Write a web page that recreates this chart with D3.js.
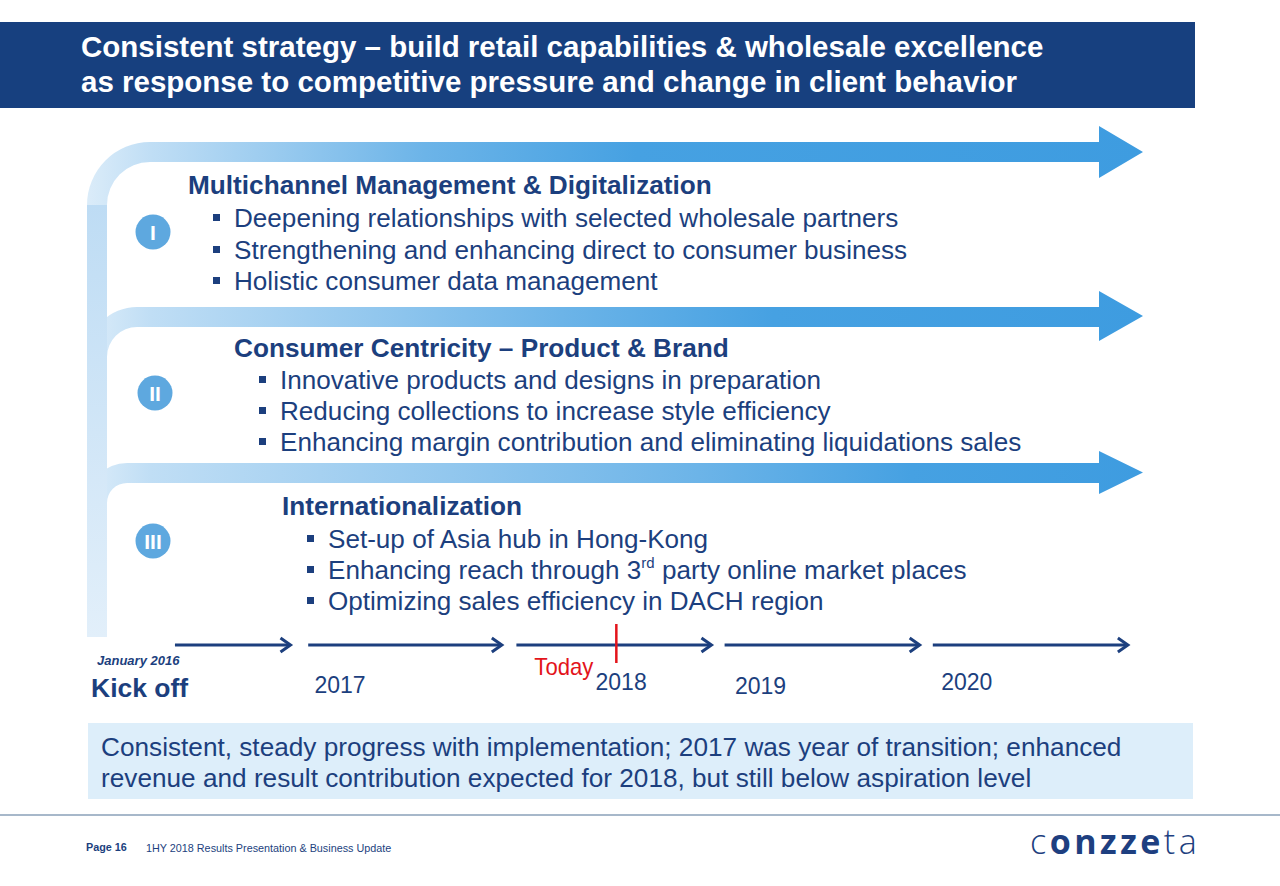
<!DOCTYPE html>
<html><head><meta charset="utf-8">
<script src="https://cdn.jsdelivr.net/npm/d3@7"></script>
<style>
html,body{margin:0;padding:0;background:#fff;}
svg{display:block;font-family:"Liberation Sans",Arial,Helvetica,sans-serif;}
</style></head><body>
<svg id="c" width="1280" height="886"></svg>
<script>
// ---------- data ----------
const titleLines = [
  "Consistent strategy \u2013 build retail capabilities & wholesale excellence",
  "as response to competitive pressure and change in client behavior"
];
const sectionNumerals = ["I", "II", "III"];
const sectionHeadings = [
  "Multichannel Management & Digitalization",
  "Consumer Centricity \u2013 Product & Brand",
  "Internationalization"
];
const sectionBullets = [
  ["Deepening relationships with selected wholesale partners",
   "Strengthening and enhancing direct to consumer business",
   "Holistic consumer data management"],
  ["Innovative products and designs in preparation",
   "Reducing collections to increase style efficiency",
   "Enhancing margin contribution and eliminating liquidations sales"],
  ["Set-up of Asia hub in Hong-Kong",
   "Enhancing reach through 3|rd| party online market places",
   "Optimizing sales efficiency in DACH region"]
];
// timeline (time measured in years)
const timelineSegments = [[2016.36, 2016.915], [2017.0, 2017.93], [2018.0, 2018.937], [2019.0, 2019.937], [2020.0, 2020.937]];
const yearLabels = ["2017", "2018", "2019", "2020"];
const yearLabelAt = [2017.03, 2018.38, 2019.05, 2020.04];
const todayAt = 2018.48;
const kickOffLabel = "Kick off";
const kickOffDate = "January 2016";
const todayLabel = "Today";
const summaryLines = [
  "Consistent, steady progress with implementation; 2017 was year of transition; enhanced",
  "revenue and result contribution expected for 2018, but still below aspiration level"
];
const footerPage = "Page 16";
const footerText = "1HY 2018 Results Presentation & Business Update";
const logoParts = [["c", 300], ["onzze", 700], ["ta", 300]];

// ---------- layout ----------
const navy = "#1c3f7e";
const svg = d3.select("#c");
const defs = svg.append("defs");

// header
svg.append("rect").attr("x", 0).attr("y", 22).attr("width", 1195).attr("height", 86).attr("fill", "#17407f");
svg.selectAll("text.title").data(titleLines).enter().append("text")
  .attr("class", "title").attr("x", 81).attr("y", (d, i) => 57 + i * 35)
  .attr("fill", "#fff").attr("font-weight", "bold").attr("font-size", 29.5).text(d => d);

// bent arrows
const arrowGeom = [
  {top: 142, rOut: 63, headTop: 126, headBot: 178, mid: 0.32},
  {top: 307, rOut: 50, headTop: 291, headBot: 341, mid: 0.45},
  {top: 463, rOut: 40, headTop: 451, headBot: 494, mid: 0.58}
];
const xL = 87, barW = 20, headX = 1099, tipX = 1143;
arrowGeom.forEach((g, i) => {
  const gr = defs.append("linearGradient").attr("id", "ag" + i)
    .attr("gradientUnits", "userSpaceOnUse").attr("x1", xL).attr("x2", tipX).attr("y1", 0).attr("y2", 0);
  gr.append("stop").attr("offset", 0).attr("stop-color", "#dbecf9");
  gr.append("stop").attr("offset", 0.06).attr("stop-color", "#c0def5");
  gr.append("stop").attr("offset", g.mid).attr("stop-color", "#6cb4e8");
  gr.append("stop").attr("offset", g.mid + 0.2).attr("stop-color", "#46a1e2");
  gr.append("stop").attr("offset", 1).attr("stop-color", "#3e9ce0");
  const rIn = g.rOut - barW, cx = xL + g.rOut, cy = g.top + g.rOut, bot = g.top + barW, mid = (g.headTop + g.headBot) / 2;
  const p = d3.path();
  p.moveTo(xL, cy);
  p.arc(cx, cy, g.rOut, Math.PI, 1.5 * Math.PI);
  p.lineTo(headX, g.top);
  p.lineTo(headX, g.headTop);
  p.lineTo(tipX, mid);
  p.lineTo(headX, g.headBot);
  p.lineTo(headX, bot);
  p.lineTo(cx, bot);
  p.arc(cx, cy, rIn, 1.5 * Math.PI, Math.PI, true);
  p.closePath();
  svg.append("path").attr("d", p.toString()).attr("fill", "url(#ag" + i + ")");
});
const vg = defs.append("linearGradient").attr("id", "vg").attr("x1", 0).attr("x2", 0).attr("y1", 0).attr("y2", 1);
vg.append("stop").attr("offset", 0).attr("stop-color", "#bedcf4");
vg.append("stop").attr("offset", 1).attr("stop-color", "#e2effa");
svg.append("rect").attr("x", xL).attr("y", 142 + 63).attr("width", barW).attr("height", 637 - 205).attr("fill", "url(#vg)");

// numeral circles
const circleY = [232, 393, 541];
const circleX = [153, 155, 153];
sectionNumerals.forEach((n, i) => {
  svg.append("circle").attr("cx", circleX[i]).attr("cy", circleY[i]).attr("r", 17.5).attr("fill", "#5ea8df");
  svg.append("text").attr("x", circleX[i]).attr("y", circleY[i] + 7.5).attr("text-anchor", "middle")
    .attr("fill", "#fff").attr("font-weight", "bold").attr("font-size", 21).text(n);
});

// section texts
const headX0 = [188, 234, 282];
const headBase = [194, 357, 515];
const bulletBase = [[227, 259, 290], [389, 420, 451], [548, 579, 610]];
sectionHeadings.forEach((h, i) => {
  svg.append("text").attr("x", headX0[i]).attr("y", headBase[i]).attr("fill", navy)
    .attr("font-weight", "bold").attr("font-size", 26.2).text(h);
  sectionBullets[i].forEach((b, j) => {
    const y = bulletBase[i][j];
    svg.append("rect").attr("x", headX0[i] + 25).attr("y", y - 13).attr("width", 7).attr("height", 7).attr("fill", navy);
    const t = svg.append("text").attr("x", headX0[i] + 46).attr("y", y).attr("fill", navy).attr("font-size", 26.1);
    const parts = b.split("|");
    parts.forEach((s, k) => {
      if (k % 2 === 1) t.append("tspan").attr("font-size", 15).attr("dy", -11).text(s);
      else t.append("tspan").attr("dy", k > 0 ? 11 : 0).text(s);
    });
  });
});

// timeline
const xt = d3.scaleLinear().domain([2016, 2021]).range([100, 1141]);
const tlY = 645;
timelineSegments.forEach(s => {
  const x0 = xt(s[0]), x1 = xt(s[1]);
  svg.append("line").attr("x1", x0).attr("x2", x1 - 1).attr("y1", tlY).attr("y2", tlY)
    .attr("stroke", navy).attr("stroke-width", 3);
  svg.append("path").attr("d", `M${x1 - 10},${tlY - 7}L${x1},${tlY}L${x1 - 10},${tlY + 7}`)
    .attr("fill", "none").attr("stroke", navy).attr("stroke-width", 3).attr("stroke-linejoin", "miter");
});
svg.append("line").attr("x1", xt(todayAt)).attr("x2", xt(todayAt)).attr("y1", 624).attr("y2", 663)
  .attr("stroke", "#e3141b").attr("stroke-width", 2.5);
svg.append("text").attr("x", xt(todayAt) - 23).attr("y", 675).attr("text-anchor", "end")
  .attr("fill", "#e3141b").attr("font-size", 24).attr("textLength", 59)
  .attr("lengthAdjust", "spacingAndGlyphs").text(todayLabel);
const yearBase = [693, 690, 694, 690];
yearLabels.forEach((y, i) => {
  svg.append("text").attr("x", xt(yearLabelAt[i])).attr("y", yearBase[i]).attr("fill", navy)
    .attr("font-size", 23).text(y);
});
svg.append("text").attr("x", 97).attr("y", 665).attr("fill", navy).attr("font-weight", "bold")
  .attr("font-style", "italic").attr("font-size", 13).text(kickOffDate);
svg.append("text").attr("x", 91).attr("y", 697).attr("fill", navy).attr("font-weight", "bold")
  .attr("font-size", 26.5).text(kickOffLabel);

// summary box
svg.append("rect").attr("x", 88).attr("y", 723).attr("width", 1105).attr("height", 76).attr("fill", "#ddeefa");
svg.selectAll("text.sum").data(summaryLines).enter().append("text").attr("class", "sum")
  .attr("x", 101).attr("y", (d, i) => 756 + i * 31).attr("fill", navy).attr("font-size", 26.2).text(d => d);

// footer
svg.append("line").attr("x1", 0).attr("x2", 1280).attr("y1", 815).attr("y2", 815)
  .attr("stroke", "#8aa0b8").attr("stroke-width", 1.5);
svg.append("text").attr("x", 86).attr("y", 851).attr("fill", navy).attr("font-weight", "bold")
  .attr("font-size", 10.8).text(footerPage);
svg.append("text").attr("x", 146).attr("y", 852).attr("fill", navy).attr("font-size", 10.8).text(footerText);
const logo = svg.append("text").attr("x", 1030).attr("y", 854).attr("fill", "#1e3f80")
  .attr("font-family", "'Open Sans','DejaVu Sans',sans-serif").attr("font-size", 34).attr("letter-spacing", 3.5);
logoParts.forEach(p => logo.append("tspan").attr("font-weight", p[1]).text(p[0]));
</script>
</body></html>
